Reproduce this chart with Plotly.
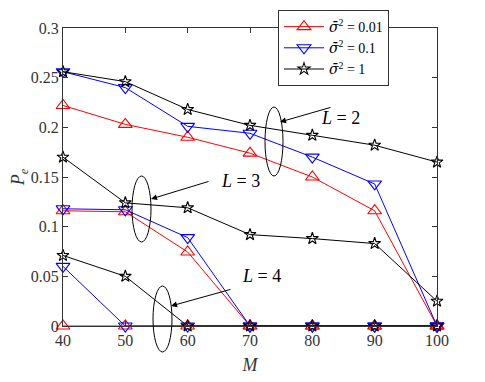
import plotly.graph_objects as go

# dados
M = [40, 50, 60, 70, 80, 90, 100]

# L = 2
pe_l2_001 = [0.222, 0.203, 0.190, 0.174, 0.150, 0.116, 0.0]
pe_l2_01 = [0.256, 0.240, 0.201, 0.194, 0.170, 0.143, 0.0]
pe_l2_1 = [0.256, 0.246, 0.218, 0.202, 0.192, 0.182, 0.165]

# L = 3
pe_l3_001 = [0.116, 0.115, 0.0745, 0.0, 0.0, 0.0, 0.0]
pe_l3_01 = [0.118, 0.117, 0.089, 0.0, 0.0, 0.0, 0.0]
pe_l3_1 = [0.170, 0.124, 0.119, 0.092, 0.088, 0.083, 0.025]

# L = 4
pe_l4_001 = [0.0, 0.0, 0.0, 0.0, 0.0, 0.0, 0.0]
pe_l4_01 = [0.060, 0.0, 0.0, 0.0, 0.0, 0.0, 0.0]
pe_l4_1 = [0.071, 0.050, 0.0, 0.0, 0.0, 0.0, 0.0]

sig = '<span style="font-family:DejaVu Serif"><i>σ̄</i></span><sup>2</sup>'
nomes = [sig + ' = 0.01', sig + ' = 0.1', sig + ' = 1']
cores = ['#ff0000', '#0000ff', '#000000']
simbolos = ['triangle-up-open', 'triangle-down-open', 'star-open']
grupos = [
    [pe_l2_001, pe_l2_01, pe_l2_1],
    [pe_l3_001, pe_l3_01, pe_l3_1],
    [pe_l4_001, pe_l4_01, pe_l4_1],
]

fonte = 'Liberation Serif'
# a pagina tem margem de ~8px, entao compenso
OFF = 8
W, H = 485 - OFF, 382 - OFF
L, R, T, B = 63 - OFF, 48, 28 - OFF, 56
pw, ph = W - L - R, H - T - B


def px(x):
    return (x - OFF - L) / pw


def py(y):
    return (H - B - (y - OFF)) / ph


fig = go.Figure()

for g, series in enumerate(grupos):
    for i, pe in enumerate(series):
        fig.add_trace(go.Scatter(
            x=M, y=pe, mode='lines+markers', name=nomes[i],
            legendgroup=str(i), showlegend=(g == 0),
            line=dict(color=cores[i], width=1),
            marker=dict(symbol=simbolos[i], size=12 if i < 2 else 9, color=cores[i],
                        line=dict(width=1.1)),
            cliponaxis=False,
        ))

# elipses (posicoes em pixels da janela)
elipses = [(265, 283, 107, 176), (132, 151, 176, 242), (153, 172, 286, 352)]
for x0, x1, y0, y1 in elipses:
    fig.add_shape(type='circle', xref='paper', yref='paper',
                  x0=px(x0), x1=px(x1), y0=py(y1), y1=py(y0),
                  line=dict(color='black', width=1))

# setas e textos
setas = [((280, 122), (332, 107), (362, 106), '<i>L</i> = 2'),
         ((151, 199), (210, 181), (240, 181), '<i>L</i> = 3'),
         ((171, 306), (232, 289), (261, 288), '<i>L</i> = 4')]
for (hx, hy), (tx, ty), (lx, ly), txt in setas:
    fig.add_annotation(x=px(hx), y=py(hy), xref='paper', yref='paper',
                       ax=tx - hx, ay=ty - hy, text='', showarrow=True,
                       arrowhead=2, arrowsize=1.2, arrowwidth=1, arrowcolor='black')
    fig.add_annotation(x=px(lx), y=py(ly), xref='paper', yref='paper', text=txt,
                       showarrow=False, font=dict(family=fonte, size=18, color='black'))

eixo = dict(showline=True, linecolor='#333333', linewidth=1, mirror='ticks',
            ticks='inside', ticklen=5, tickcolor='#333333', showgrid=False, zeroline=False,
            automargin=False,
            tickfont=dict(family=fonte, size=16, color='#333333'))

fig.update_layout(
    width=W, height=H,
    margin=dict(l=L, r=R, t=T, b=B, autoexpand=False),
    plot_bgcolor='white', paper_bgcolor='white',
    xaxis=dict(range=[40, 100], dtick=10,
               title=dict(text='<i>M</i>', font=dict(family=fonte, size=18, color='#333333'), standoff=10),
               **eixo),
    yaxis=dict(range=[0, 0.3], dtick=0.05,
               title=dict(text='<i>P</i><sub><i>e</i></sub>', font=dict(family=fonte, size=18, color='#333333'), standoff=6),
               **eixo),
    legend=dict(x=px(278), y=py(10), xanchor='left', yanchor='top',
                bgcolor='white', bordercolor='#333333', borderwidth=1,
                font=dict(family=fonte, size=14, color='black'),
                itemwidth=40, tracegroupgap=0),
)

fig.write_html('out.html')
